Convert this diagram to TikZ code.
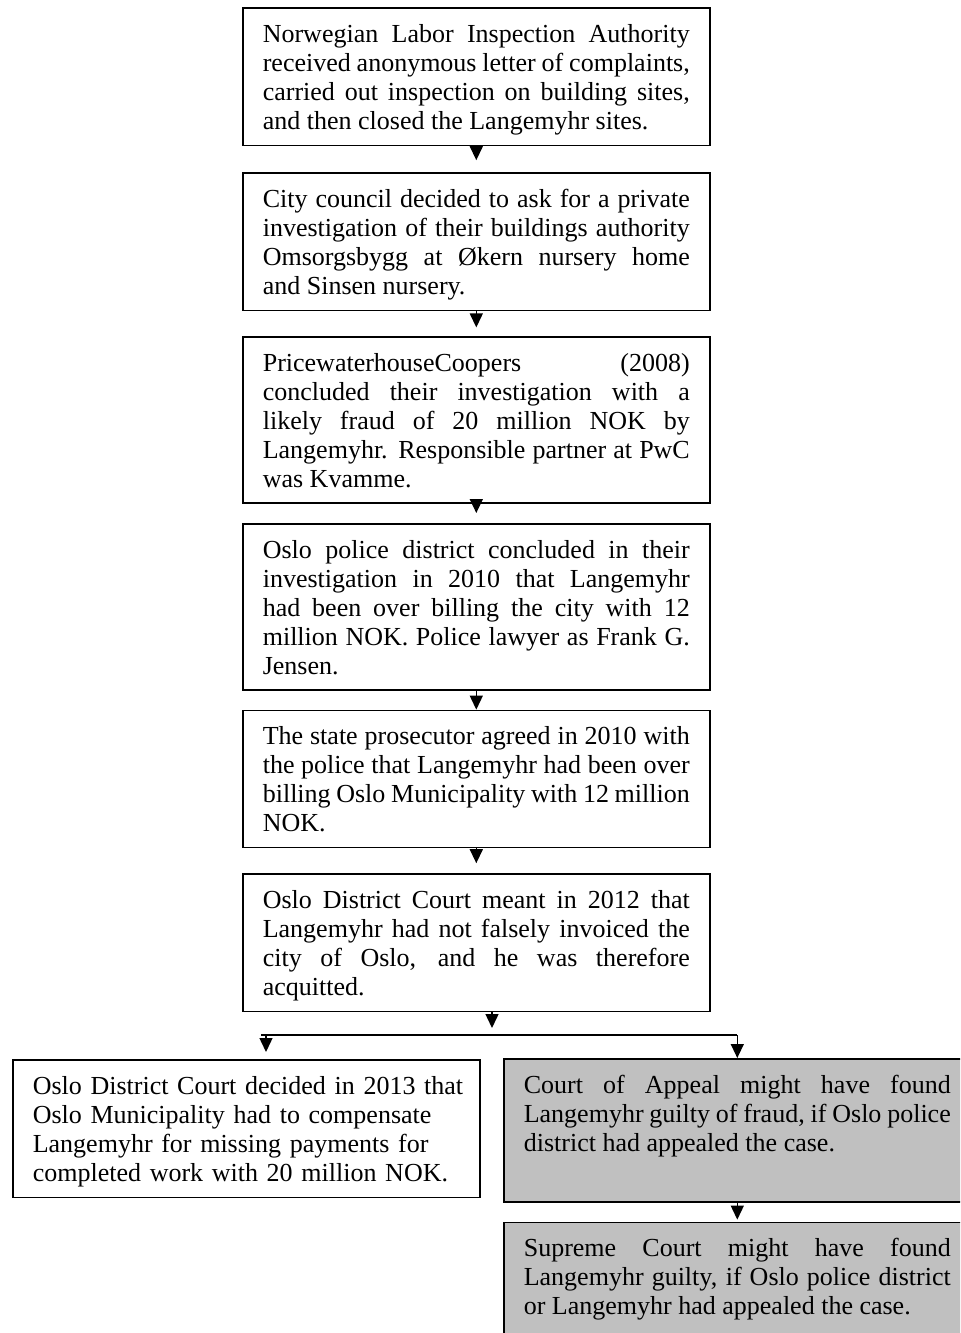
\documentclass[tikz,border=0pt]{standalone}
\usepackage{fontspec}
\setmainfont{Liberation Serif}
\usepackage{tikz}
\usetikzlibrary{arrows.meta,positioning}
\usepackage{xcolor}
\definecolor{appealGray}{HTML}{C0C0C0}
\newcommand{\topstrut}{\rule{0pt}{12pt}}
\newcommand{\botstrut}{\rule[-2.5pt]{0pt}{2.5pt}}
\hbadness=10000
\hfuzz=8pt

\begin{document}
\begin{tikzpicture}[x=0.5pt,y=0.5pt,
    every node/.style={font=\fontsize{13pt}{14.5pt}\selectfont},
    stepbox/.style={draw,line width=0.8pt,text width=213.5pt,inner xsep=10pt,inner ysep=5.25pt,align=justify,
      execute at begin node={\noindent\topstrut},execute at end node={\botstrut}},
    flow/.style={line width=0.7pt,-{Triangle[width=6.5pt,length=7pt]}}]
    \useasboundingbox (0,0) rectangle (960,-1333);
    \clip (0,0) rectangle (960,-1333);
    % main chain
    \node[stepbox,anchor=north west] (inspection) at (242,-7) {Norwegian Labor Inspection Authority\linebreak received anonymous letter of complaints,\linebreak carried out inspection on building sites,\linebreak and then closed the Langemyhr sites.};
    \node[stepbox,below=13pt of inspection] (council) {City council decided to ask for a private\linebreak investigation of their buildings authority\linebreak Omsorgsbygg at Økern nursery home\linebreak and Sinsen nursery.};
    \node[stepbox,below=12.5pt of council] (pwc) {PricewaterhouseCoopers (2008)\linebreak concluded their investigation with a\linebreak likely fraud of 20 million NOK by\linebreak Langemyhr. Responsible partner at PwC\linebreak was Kvamme.};
    \node[stepbox,below=9.5pt of pwc] (police) {Oslo police district concluded in their\linebreak investigation in 2010 that Langemyhr\linebreak had been over billing the city with 12\linebreak million NOK. Police lawyer as Frank G.\linebreak Jensen.};
    \node[stepbox,below=9.5pt of police] (prosecutor) {The state prosecutor agreed in 2010 with\linebreak the police that Langemyhr had been over\linebreak billing Oslo Municipality with 12 million\linebreak NOK.};
    \node[stepbox,below=12.5pt of prosecutor] (district) {Oslo District Court meant in 2012 that\linebreak Langemyhr had not falsely invoiced the\linebreak city of Oslo, and he was therefore\linebreak acquitted.};
    % outcomes
    \node[stepbox,anchor=north west,align=left] (compensate) at (12,-1059) {\mbox{Oslo District Court decided in 2013 that}\\ Oslo Municipality had to compensate\\ Langemyhr for missing payments for\\ completed work with 20 million NOK.};
    \node[stepbox,fill=appealGray,anchor=north west,execute at end node={\rule[-20pt]{0pt}{20pt}}] (appeal) at (503,-1058) {Court of Appeal might have found\linebreak Langemyhr guilty of fraud, if Oslo police\linebreak district had appealed the case.};
    \node[stepbox,fill=appealGray,below=9.5pt of appeal,execute at end node={\rule[-30pt]{0pt}{30pt}}] (supreme) {Supreme Court might have found\linebreak Langemyhr guilty, if Oslo police district\linebreak or Langemyhr had appealed the case.};
    \draw[flow,shorten >=6pt] (inspection) -- (council);
    \draw[flow,shorten >=4.5pt] (council) -- (pwc);
    \draw[flow,shorten >=5pt] (pwc) -- (police);
    \draw[flow] (police) -- (prosecutor);
    \draw[flow,shorten >=5pt] (prosecutor) -- (district);
    % split
    \coordinate (split) at (492,-1035);
    \coordinate (busleft) at (261,-1035);
    \coordinate (leftdrop) at (266,-1035);
    \draw[flow,shorten >=3.5pt] (district.south -| split) -- (split);
    \draw[line width=0.7pt] (busleft) -- (split -| appeal.north);
    \draw[flow,shorten >=3.5pt] (leftdrop) -- (leftdrop |- compensate.north);
    \draw[flow] (split -| appeal.north) -- (appeal.north);
    \draw[flow,shorten >=1pt] (appeal) -- (supreme);
\end{tikzpicture}
\end{document}
